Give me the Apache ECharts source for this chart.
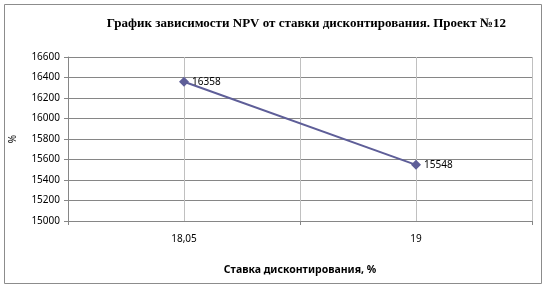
<!DOCTYPE html>
<html><head><meta charset="utf-8">
<script src="https://cdn.jsdelivr.net/npm/echarts@6/dist/echarts.min.js"></script>
<style>html,body{margin:0;padding:0;background:#fff}#c{width:546px;height:289px}</style>
</head><body><div id="c"></div>
<script>
const categories = ["18,05", "19"];
const npvValues = [16358, 15548];
const yTicks = { min: 15000, max: 16600, step: 200 };
const titleText = "График зависимости NPV от ставки дисконтирования. Проект №12";
const xAxisName = "Ставка дисконтирования, %";
const yAxisName = "%";

const chart = echarts.init(document.getElementById('c'));
chart.setOption({
  animation: false,
  graphic: [{ type: 'rect', shape: { x: 4.5, y: 4.5, width: 537, height: 279 }, style: { fill: 'none', stroke: '#8c8c8c', lineWidth: 1 } }],
  title: { text: titleText, right: 35, top: 12, textStyle: { fontFamily: 'Liberation Serif', fontWeight: 'bold', fontSize: 13, color: '#000' } },
  grid: { left: 67, right: 14, top: 57, bottom: 68 },
  xAxis: [{
    type: 'category', data: categories, boundaryGap: true,
    axisLine: { lineStyle: { color: '#868686' } },
    axisTick: { show: true, length: 4, lineStyle: { color: '#868686' } },
    axisLabel: { color: '#000', fontFamily: 'Noto Sans', fontSize: 10, margin: 13 },
    splitLine: { show: false },
    name: xAxisName, nameLocation: 'middle', nameGap: 44,
    nameTextStyle: { color: '#000', fontFamily: 'Noto Sans', fontSize: 10.5, fontWeight: 'bold' }
  }, {
    type: 'value', min: 0, max: 4, interval: 1, position: 'bottom',
    axisLine: { show: false }, axisTick: { show: false }, axisLabel: { show: false },
    splitLine: { show: true, lineStyle: { color: '#c0c0c0', width: 1 } }
  }],
  yAxis: {
    type: 'value', min: yTicks.min, max: yTicks.max, interval: yTicks.step,
    axisLine: { show: true, lineStyle: { color: '#868686' } },
    axisTick: { show: true, length: 4, lineStyle: { color: '#868686' } },
    axisLabel: { color: '#000', fontFamily: 'Noto Sans', fontSize: 10, margin: 8, formatter: v => String(v) },
    splitLine: { show: true, lineStyle: { color: '#868686', width: 1 } },
    name: yAxisName, nameLocation: 'middle', nameGap: 50, nameRotate: 90,
    nameTextStyle: { color: '#000', fontFamily: 'Noto Sans', fontSize: 10 }
  },
  series: [{
    type: 'line', data: npvValues, xAxisIndex: 0,
    symbol: 'diamond', symbolSize: 10,
    lineStyle: { color: '#5e5e98', width: 2 },
    itemStyle: { color: '#5e5e98' },
    label: { show: true, position: 'right', distance: 3, color: '#000', fontFamily: 'Noto Sans', fontSize: 10 }
  }]
});
</script></body></html>
